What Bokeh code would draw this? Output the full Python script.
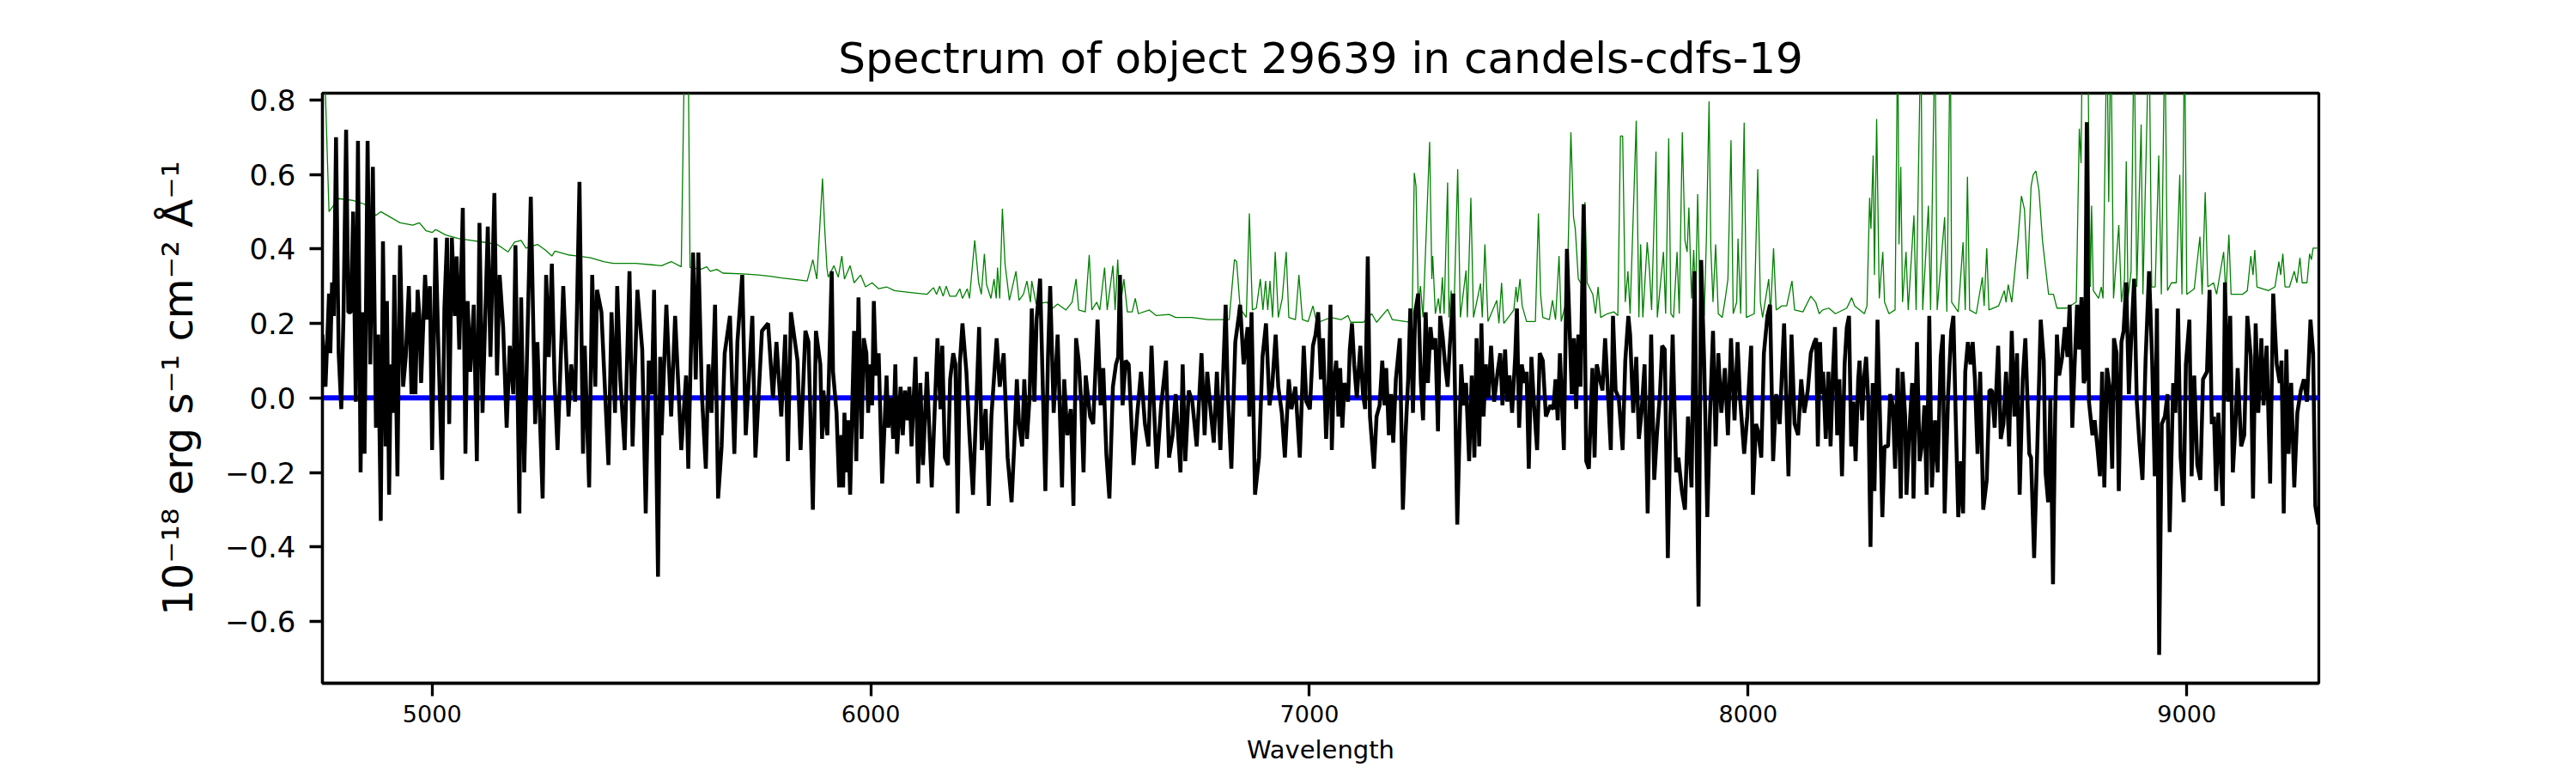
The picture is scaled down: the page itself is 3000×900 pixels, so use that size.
from bokeh.plotting import figure
from bokeh.models import Range1d, FixedTicker, CustomJSTickFormatter, ColumnDataSource
from bokeh.embed import file_html
from bokeh.resources import INLINE

TITLE = "Spectrum of object 29639 in candels-cdfs-19"
X_LABEL = "Wavelength"
Y_LABEL = "10\u207b\u00b9\u2078 erg s\u207b\u00b9 cm\u207b\u00b2 \u00c5\u207b\u00b9"
X_TICKS = [5000, 6000, 7000, 8000, 9000]
Y_TICKS = [-0.6, -0.4, -0.2, 0.0, 0.2, 0.4, 0.6, 0.8]

# observed flux (black), pairs of (wavelength, flux)
flux_4750_5880 = [(4750,0.17),(4757,0.03),(4765,0.28),(4768,0.12),(4772,0.31),(4776,0.22),(4781,0.70),(4787,0.12),(4793,-0.03),(4798,0.22),(4804,0.72),(4809,0.23),(4815,0.23),(4820,0.50),(4826,-0.01),(4831,0.69),(4837,-0.20),(4841,0.23),(4846,-0.15),(4853,0.69),(4859,0.09),(4865,0.62),(4872,-0.08),(4877,0.17),(4883,-0.33),(4888,0.42),(4894,-0.13),(4897,0.26),(4902,-0.26),(4906,0.09),(4910,-0.04),(4914,0.33),(4921,-0.21),(4927,0.41),(4934,0.03),(4940,0.11),(4947,0.30),(4953,0.01),(4958,0.23),(4962,0.01),(4967,0.29),(4971,0.22),(4975,0.04),(4984,0.33),(4989,0.21),(4995,0.30),(5000,-0.14),(5008,0.43),(5014,0.15),(5023,-0.22),(5028,0.24),(5034,0.43),(5039,-0.07),(5045,0.43),(5052,0.22),(5056,0.38),(5062,0.13),(5070,0.51),(5076,-0.15),(5081,0.26),(5087,0.07),(5095,0.25),(5102,-0.17),(5108,0.47),(5115,-0.04),(5127,0.46),(5133,0.11),(5142,0.55),(5148,0.06),(5154,0.33),(5162,0.19),(5170,-0.08),(5177,0.14),(5185,0.01),(5190,0.41),(5199,-0.31),(5203,0.27),(5210,-0.20),(5225,0.54),(5235,-0.07),(5240,0.15),(5252,-0.27),(5260,0.33),(5266,0.11),(5273,0.36),(5279,0.05),(5286,-0.14),(5299,0.30),(5311,-0.05),(5317,0.09),(5326,-0.01),(5336,0.58),(5344,-0.15),(5348,0.14),(5358,-0.24),(5365,0.33),(5372,0.03),(5376,0.29),(5386,0.23),(5402,-0.18),(5409,0.23),(5417,-0.04),(5422,0.30),(5429,0.05),(5439,-0.14),(5450,0.34),(5457,-0.13),(5468,0.29),(5479,0.13),(5487,-0.31),(5494,0.10),(5501,0.01),(5506,0.29),(5515,-0.48),(5520,0.11),(5523,-0.10),(5534,0.25),(5545,-0.05),(5554,0.22),(5568,-0.14),(5579,0.06),(5584,-0.19),(5595,0.39),(5601,0.05),(5607,0.39),(5615,0.01),(5624,-0.19),(5630,0.09),(5637,-0.04),(5645,0.25),(5652,-0.27),(5660,-0.13),(5667,0.12),(5679,0.22),(5689,-0.15),(5696,0.15),(5707,0.33),(5715,-0.10),(5730,0.22),(5737,-0.16),(5752,0.18),(5766,0.20),(5777,0.00),(5785,0.15),(5796,-0.05),(5805,0.17),(5811,-0.17),(5818,0.23),(5833,0.10),(5840,-0.14),(5851,0.18),(5858,0.15),(5868,-0.30),(5875,0.18)]

flux_5885_7015 = [(5885,0.09),(5889,-0.11),(5892,0.02),(5898,-0.07),(5901,-0.10),(5911,0.34),(5914,0.07),(5922,-0.04),(5928,-0.24),(5933,-0.10),(5937,-0.24),(5940,-0.04),(5944,-0.20),(5948,-0.06),(5953,-0.26),(5962,0.18),(5967,-0.17),(5972,0.27),(5979,-0.11),(5984,0.16),(5990,0.12),(5994,-0.04),(5999,0.09),(6003,-0.02),(6007,0.26),(6012,0.06),(6018,0.12),(6026,-0.23),(6036,0.06),(6040,-0.08),(6047,0.00),(6051,-0.11),(6056,0.09),(6060,-0.15),(6068,0.03),(6073,-0.10),(6078,0.02),(6084,-0.06),(6088,0.03),(6093,-0.13),(6102,0.11),(6108,-0.23),(6113,0.04),(6119,-0.18),(6128,0.07),(6139,-0.24),(6152,0.16),(6159,-0.03),(6163,0.14),(6169,-0.16),(6176,-0.18),(6181,0.05),(6188,0.12),(6193,0.09),(6198,-0.31),(6203,0.09),(6209,0.20),(6218,0.07),(6225,-0.10),(6233,-0.26),(6239,-0.07),(6247,0.19),(6253,-0.14),(6262,-0.03),(6269,-0.29),(6275,-0.05),(6287,0.16),(6294,0.03),(6303,0.12),(6312,-0.16),(6321,-0.28),(6327,-0.13),(6333,0.05),(6338,-0.07),(6345,-0.13),(6350,0.05),(6356,-0.11),(6362,0.00),(6367,0.24),(6373,-0.01),(6378,0.21),(6386,0.32),(6393,-0.01),(6398,-0.25),(6404,0.11),(6409,0.30),(6417,-0.04),(6426,0.17),(6436,-0.24),(6441,0.05),(6448,-0.10),(6456,-0.03),(6462,-0.29),(6468,0.16),(6474,0.10),(6480,-0.02),(6485,-0.20),(6490,0.06),(6500,-0.05),(6507,-0.07),(6517,0.21),(6524,-0.02),(6530,0.08),(6537,-0.15),(6544,-0.27),(6552,0.03),(6559,0.09),(6564,0.11),(6568,0.33),(6574,-0.02),(6581,0.10),(6588,0.09),(6594,-0.06),(6599,-0.18),(6607,-0.05),(6616,0.07),(6625,-0.07),(6633,-0.13),(6640,0.14),(6645,-0.01),(6652,-0.19),(6662,-0.02),(6673,0.10),(6680,-0.16),(6688,-0.10),(6695,0.01),(6706,-0.20),(6711,0.09),(6717,-0.17),(6725,0.02),(6733,-0.01),(6743,-0.13),(6754,0.12),(6761,-0.10),(6767,0.07),(6776,-0.05),(6782,-0.12),(6789,0.07),(6797,-0.14),(6809,0.25),(6814,0.01),(6822,-0.19),(6831,0.15),(6839,0.22),(6842,0.25),(6850,0.09),(6859,0.19),(6863,-0.05),(6868,0.23),(6876,-0.26),(6885,-0.16),(6893,0.11),(6901,0.20),(6909,-0.02),(6915,0.03),(6923,0.17),(6929,0.03),(6937,-0.04),(6944,-0.16),(6953,0.05),(6959,-0.03),(6968,0.03),(6978,-0.16),(6987,0.14),(6993,-0.01),(7001,-0.03),(7008,0.14),(7014,0.17)]

flux_7020_8150 = [(7020,0.23),(7026,0.05),(7031,0.16),(7038,-0.11),(7044,0.05),(7048,0.25),(7051,-0.14),(7055,0.03),(7061,0.10),(7066,-0.05),(7070,0.08),(7075,-0.08),(7080,0.04),(7088,-0.01),(7092,0.13),(7097,0.20),(7102,0.09),(7108,0.00),(7116,0.14),(7122,0.01),(7127,-0.03),(7133,0.38),(7138,-0.05),(7147,-0.19),(7153,-0.05),(7160,-0.02),(7166,0.10),(7171,-0.02),(7175,0.08),(7181,-0.10),(7186,0.01),(7191,-0.12),(7197,0.05),(7206,0.16),(7213,-0.30),(7219,-0.10),(7225,0.05),(7230,0.24),(7236,-0.04),(7241,0.23),(7248,0.28),(7254,0.04),(7259,-0.06),(7265,0.23),(7270,0.04),(7276,0.19),(7281,0.13),(7287,0.16),(7293,-0.09),(7298,0.22),(7304,0.16),(7309,0.09),(7315,0.03),(7320,0.14),(7328,0.28),(7337,-0.34),(7346,0.09),(7351,-0.02),(7357,0.04),(7364,-0.17),(7370,0.06),(7376,-0.16),(7381,0.16),(7387,-0.13),(7392,0.20),(7397,-0.05),(7402,0.09),(7408,0.00),(7414,0.14),(7421,-0.01),(7429,0.07),(7435,0.12),(7440,-0.02),(7446,0.13),(7451,-0.01),(7456,0.06),(7462,-0.04),(7469,0.11),(7473,0.24),(7478,-0.08),(7484,0.09),(7491,0.04),(7495,0.07),(7500,-0.19),(7506,0.11),(7512,-0.02),(7519,-0.14),(7525,0.12),(7532,0.10),(7539,-0.05),(7549,-0.02),(7556,-0.03),(7561,0.05),(7566,-0.06),(7571,0.12),(7580,-0.14),(7587,0.40),(7593,0.19),(7598,0.01),(7603,0.16),(7608,-0.03),(7613,0.17),(7618,0.03),(7625,0.52),(7631,-0.17),(7637,-0.19),(7645,0.08),(7650,-0.16),(7655,0.09),(7662,0.05),(7668,0.02),(7674,0.16),(7679,0.05),(7687,-0.14),(7692,0.22),(7698,0.02),(7705,0.00),(7714,-0.14),(7720,0.10),(7727,0.22),(7731,0.17),(7738,-0.04),(7745,0.11),(7751,-0.11),(7757,-0.04),(7764,0.09),(7771,-0.31),(7779,0.17),(7786,-0.22),(7792,-0.10),(7799,0.01),(7804,0.14),(7810,0.13),(7817,-0.43),(7823,-0.05),(7828,0.17),(7836,-0.20),(7841,-0.16),(7849,-0.25),(7856,-0.30),(7863,-0.05),(7871,-0.24),(7878,0.34),(7887,-0.56),(7893,0.37),(7900,0.09),(7907,-0.32),(7913,-0.05),(7920,0.18),(7926,-0.13),(7932,0.12),(7939,-0.04),(7947,0.08),(7954,-0.10),(7961,0.16),(7969,-0.06),(7976,0.15),(7981,0.01),(7991,-0.15),(7998,-0.05),(8007,0.14),(8011,-0.26),(8018,-0.07),(8023,-0.09),(8030,-0.16),(8036,0.12),(8044,0.22),(8050,0.25),(8057,-0.17),(8064,0.01),(8072,-0.07),(8082,0.20),(8092,-0.21),(8099,0.17),(8106,-0.07),(8114,-0.10),(8121,0.05),(8128,-0.04),(8136,0.02),(8143,0.12),(8151,0.15)]

flux_8155_9300 = [(8155,0.16),(8159,-0.13),(8164,0.15),(8168,0.01),(8171,0.07),(8177,-0.11),(8183,0.07),(8188,-0.13),(8193,0.06),(8198,0.19),(8203,-0.10),(8208,0.05),(8214,-0.21),(8220,0.09),(8225,0.19),(8230,0.22),(8235,-0.13),(8240,-0.01),(8245,-0.17),(8251,0.05),(8254,0.10),(8260,-0.06),(8264,0.05),(8269,0.11),(8274,-0.01),(8279,-0.40),(8284,0.04),(8288,-0.25),(8295,0.21),(8301,-0.07),(8306,-0.32),(8311,-0.13),(8319,-0.13),(8324,0.01),(8330,-0.02),(8335,-0.19),(8341,0.08),(8348,-0.27),(8352,0.07),(8358,-0.05),(8361,-0.26),(8367,-0.10),(8374,0.04),(8377,-0.27),(8385,0.15),(8391,-0.17),(8397,-0.12),(8402,-0.02),(8407,-0.26),(8413,0.22),(8419,-0.24),(8426,-0.06),(8432,-0.20),(8439,0.11),(8444,0.17),(8448,-0.31),(8456,0.01),(8463,0.18),(8468,0.22),(8473,-0.04),(8479,-0.32),(8485,-0.17),(8490,-0.31),(8495,0.07),(8501,0.15),(8507,0.09),(8512,0.15),(8517,0.05),(8523,-0.15),(8529,0.07),(8536,-0.30),(8544,-0.22),(8550,0.02),(8556,0.02),(8562,-0.08),(8570,0.14),(8576,-0.11),(8582,-0.07),(8588,0.07),(8595,-0.13),(8601,0.18),(8607,-0.05),(8613,0.12),(8619,-0.26),(8626,0.05),(8632,0.16),(8641,-0.15),(8645,-0.16),(8652,-0.43),(8660,-0.10),(8667,0.21),(8674,0.10),(8678,-0.20),(8684,-0.28),(8689,0.00),(8695,-0.50),(8700,-0.04),(8704,0.17),(8709,0.06),(8716,0.11),(8722,0.19),(8728,0.11),(8733,0.25),(8739,-0.08),(8744,0.08),(8750,0.25),(8755,0.13),(8760,0.27),(8765,0.04),(8768,0.05),(8772,0.74),(8777,-0.01),(8785,-0.10),(8790,-0.06),(8796,-0.13),(8802,-0.21),(8807,0.07),(8812,-0.24),(8818,0.08),(8824,0.03),(8830,-0.19),(8834,0.16),(8840,0.12),(8845,-0.25),(8851,0.15),(8856,0.18),(8862,0.31),(8868,0.01),(8873,0.15),(8880,0.32),(8886,-0.01),(8892,-0.12),(8899,-0.22),(8906,0.10),(8914,0.34),(8921,0.10),(8927,-0.21),(8932,0.24),(8937,-0.69),(8943,-0.07),(8950,-0.05),(8956,0.01),(8961,-0.36),(8969,0.04),(8974,-0.04),(8980,0.24),(8986,-0.16),(8993,-0.28),(8998,0.09),(9006,0.21),(9011,-0.21),(9017,0.06),(9024,-0.18),(9031,-0.22),(9037,0.05),(9046,0.07),(9052,0.29),(9057,-0.07),(9062,-0.05),(9067,-0.25),(9072,-0.04),(9077,-0.16),(9082,-0.29),(9087,0.31),(9094,-0.01),(9099,0.22),(9105,-0.20),(9111,-0.07),(9116,0.08),(9124,-0.13),(9131,-0.10),(9138,0.22),(9146,0.11),(9151,-0.27),(9157,0.20),(9163,-0.04),(9170,0.16),(9175,-0.02),(9182,0.14),(9190,-0.23),(9197,0.28),(9205,0.09),(9212,0.04),(9216,0.10),(9221,-0.31),(9227,0.13),(9232,-0.15),(9238,0.04),(9245,-0.24),(9252,-0.04),(9260,0.02),(9267,0.05),(9274,-0.01),(9282,0.21),(9288,0.12),(9293,-0.29),(9300,-0.34)]

# noise / sky spectrum (green), pairs of (wavelength, value)
sky_4750_5900 = [(4750,1.0),(4756,0.85),(4765,0.50),(4787,0.535),(4820,0.53),(4846,0.52),(4872,0.49),(4883,0.50),(4905,0.485),(4927,0.47),(4956,0.464),(4971,0.47),(4986,0.449),(5000,0.444),(5008,0.452),(5030,0.438),(5059,0.428),(5089,0.423),(5118,0.418),(5148,0.412),(5173,0.392),(5188,0.418),(5203,0.423),(5214,0.402),(5240,0.412),(5258,0.397),(5273,0.381),(5280,0.394),(5310,0.384),(5332,0.381),(5361,0.376),(5391,0.366),(5413,0.361),(5464,0.361),(5523,0.355),(5545,0.366),(5568,0.352),(5575,0.9),(5578,1.6),(5584,0.9),(5588,0.35),(5612,0.345),(5626,0.352),(5634,0.34),(5649,0.345),(5663,0.335),(5707,0.333),(5744,0.33),(5774,0.326),(5796,0.322),(5818,0.319),(5855,0.314),(5868,0.371),(5877,0.319),(5890,0.589),(5895,0.454),(5900,0.35)]

sky_5903_7016 = [(5903,0.324),(5916,0.355),(5926,0.324),(5934,0.381),(5940,0.319),(5953,0.355),(5962,0.309),(5977,0.33),(5988,0.298),(6003,0.309),(6018,0.293),(6036,0.298),(6054,0.288),(6091,0.283),(6128,0.278),(6143,0.296),(6150,0.278),(6157,0.30),(6165,0.273),(6172,0.30),(6180,0.273),(6194,0.273),(6203,0.293),(6209,0.267),(6220,0.293),(6225,0.267),(6237,0.423),(6246,0.309),(6252,0.278),(6259,0.387),(6264,0.304),(6274,0.267),(6281,0.319),(6286,0.267),(6289,0.35),(6294,0.267),(6300,0.508),(6306,0.361),(6316,0.262),(6331,0.34),(6338,0.262),(6348,0.278),(6356,0.314),(6364,0.257),(6367,0.314),(6377,0.252),(6401,0.257),(6415,0.241),(6426,0.252),(6445,0.236),(6459,0.257),(6468,0.319),(6474,0.236),(6489,0.231),(6498,0.384),(6504,0.236),(6515,0.257),(6522,0.236),(6533,0.35),(6539,0.236),(6552,0.355),(6557,0.236),(6563,0.371),(6568,0.236),(6577,0.319),(6585,0.231),(6596,0.231),(6603,0.267),(6610,0.226),(6635,0.236),(6651,0.221),(6680,0.224),(6695,0.216),(6732,0.216),(6769,0.21),(6817,0.21),(6829,0.371),(6834,0.366),(6842,0.241),(6856,0.216),(6863,0.495),(6870,0.236),(6879,0.241),(6888,0.319),(6894,0.236),(6900,0.314),(6905,0.236),(6910,0.314),(6916,0.216),(6922,0.392),(6929,0.216),(6938,0.267),(6947,0.392),(6953,0.216),(6968,0.21),(6971,0.252),(6976,0.33),(6984,0.21),(6997,0.205),(7008,0.247),(7016,0.205)]

sky_7020_8162 = [(7020,0.203),(7049,0.216),(7072,0.21),(7088,0.221),(7094,0.203),(7123,0.203),(7142,0.226),(7153,0.203),(7178,0.238),(7189,0.21),(7219,0.205),(7234,0.203),(7239,0.604),(7243,0.568),(7248,0.257),(7253,0.30),(7259,0.216),(7274,0.687),(7279,0.319),(7281,0.381),(7287,0.226),(7294,0.267),(7298,0.226),(7303,0.324),(7307,0.226),(7315,0.578),(7318,0.216),(7323,0.288),(7329,0.21),(7338,0.614),(7344,0.216),(7357,0.342),(7360,0.216),(7368,0.537),(7374,0.216),(7390,0.307),(7394,0.216),(7400,0.412),(7407,0.205),(7427,0.262),(7432,0.20),(7438,0.309),(7443,0.20),(7466,0.236),(7471,0.298),(7474,0.257),(7480,0.319),(7485,0.247),(7495,0.205),(7515,0.205),(7522,0.495),(7527,0.278),(7532,0.216),(7547,0.21),(7554,0.262),(7561,0.21),(7569,0.381),(7574,0.205),(7587,0.267),(7596,0.713),(7602,0.485),(7606,0.454),(7613,0.319),(7624,0.298),(7628,0.526),(7633,0.309),(7646,0.278),(7652,0.226),(7658,0.298),(7664,0.216),(7679,0.226),(7694,0.231),(7703,0.221),(7709,0.703),(7714,0.703),(7720,0.257),(7726,0.34),(7731,0.226),(7745,0.744),(7751,0.216),(7755,0.412),(7760,0.216),(7770,0.418),(7775,0.345),(7780,0.236),(7790,0.661),(7793,0.216),(7807,0.392),(7812,0.226),(7819,0.697),(7824,0.226),(7830,0.216),(7838,0.392),(7843,0.226),(7850,0.713),(7856,0.423),(7861,0.392),(7865,0.511),(7871,0.267),(7876,0.397),(7880,0.257),(7885,0.547),(7891,0.226),(7900,0.221),(7905,0.433),(7911,0.796),(7915,0.402),(7920,0.257),(7926,0.412),(7932,0.226),(7941,0.216),(7948,0.267),(7954,0.319),(7961,0.692),(7966,0.226),(7974,0.257),(7977,0.428),(7983,0.226),(7991,0.739),(7996,0.216),(8014,0.226),(8022,0.614),(8028,0.257),(8033,0.216),(8047,0.319),(8051,0.226),(8058,0.402),(8064,0.236),(8077,0.247),(8088,0.247),(8100,0.314),(8106,0.236),(8125,0.231),(8136,0.257),(8143,0.273),(8154,0.257),(8162,0.226)]

sky_8170_9300 = [(8170,0.236),(8184,0.241),(8199,0.226),(8225,0.241),(8236,0.269),(8243,0.247),(8265,0.226),(8271,0.247),(8277,0.537),(8280,0.454),(8285,0.651),(8288,0.33),(8293,0.749),(8299,0.267),(8307,0.392),(8311,0.257),(8321,0.226),(8335,0.236),(8341,1.0),(8344,0.412),(8348,0.62),(8352,0.257),(8360,0.392),(8365,0.236),(8378,0.49),(8383,0.236),(8394,1.0),(8398,0.236),(8411,0.516),(8416,0.236),(8426,1.0),(8431,0.236),(8448,0.485),(8453,0.231),(8461,1.0),(8464,0.257),(8479,0.231),(8490,0.418),(8495,0.236),(8500,0.594),(8505,0.236),(8520,0.226),(8534,0.324),(8538,0.247),(8544,0.402),(8549,0.236),(8571,0.247),(8584,0.288),(8588,0.257),(8593,0.304),(8601,0.257),(8615,0.423),(8623,0.542),(8630,0.506),(8637,0.319),(8645,0.568),(8650,0.599),(8656,0.609),(8663,0.558),(8671,0.423),(8678,0.35),(8685,0.278),(8696,0.278),(8704,0.241),(8726,0.241),(8748,0.257),(8755,0.723),(8759,0.63),(8762,1.0),(8774,1.0),(8780,0.298),(8783,0.516),(8787,0.288),(8799,0.267),(8805,0.298),(8809,0.267),(8818,1.0),(8822,0.526),(8827,1.0),(8833,0.267),(8845,0.464),(8851,0.257),(8858,0.319),(8862,0.635),(8866,0.267),(8873,0.34),(8880,1.0),(8886,0.298),(8896,0.734),(8900,0.278),(8914,1.0),(8920,0.298),(8928,0.298),(8936,0.651),(8942,0.278),(8950,1.0),(8956,0.288),(8965,0.309),(8976,0.309),(8984,0.599),(8989,0.278),(8995,1.0),(9000,0.278),(9017,0.293),(9030,0.433),(9035,0.278),(9042,0.552),(9048,0.298),(9061,0.309),(9068,0.278),(9084,0.392),(9089,0.278),(9096,0.438),(9101,0.278),(9127,0.278),(9138,0.288),(9146,0.381),(9151,0.33),(9155,0.397),(9160,0.298),(9186,0.288),(9201,0.298),(9210,0.366),(9214,0.33),(9219,0.387),(9224,0.298),(9234,0.298),(9245,0.34),(9251,0.309),(9258,0.376),(9263,0.309),(9274,0.309),(9280,0.387),(9284,0.371),(9288,0.402),(9300,0.402)]

# zero level (blue)
zero_wave = [4750, 9301]
zero_flux = [0.0, 0.0]

flux_pairs = flux_4750_5880 + flux_5885_7015 + flux_7020_8150 + flux_8155_9300
sky_pairs = sky_4750_5900 + sky_5903_7016 + sky_7020_8162 + sky_8170_9300

flux_src = ColumnDataSource(dict(x=[a for a, b in flux_pairs], y=[b for a, b in flux_pairs]))
sky_src = ColumnDataSource(dict(x=[a for a, b in sky_pairs], y=[b for a, b in sky_pairs]))
zero_src = ColumnDataSource(dict(x=zero_wave, y=zero_flux))

FONT = "DejaVu Sans"

p = figure(width=2992, height=892,
           x_range=Range1d(4750, 9301), y_range=Range1d(-0.766, 0.818),
           output_backend="svg", toolbar_location=None,
           min_border_left=375, min_border_right=292,
           min_border_top=108, min_border_bottom=91,
           background_fill_color="white", border_fill_color="white")

p.title.text = TITLE
p.title.align = "center"
p.title.text_font = FONT
p.title.text_font_size = "50px"
p.title.text_font_style = "normal"
p.title.text_color = "black"
p.title.standoff = 24

p.line("x", "y", source=zero_src, line_color="#0000ff", line_width=6)
p.line("x", "y", source=sky_src, line_color="#008000", line_width=1.3)
p.line("x", "y", source=flux_src, line_color="black", line_width=4.5)

p.xgrid.visible = False
p.ygrid.visible = False
p.outline_line_color = "black"
p.outline_line_width = 3.3
p.outline_line_alpha = 1.0

for ax in (p.xaxis[0], p.yaxis[0]):
    ax.axis_line_color = "black"
    ax.axis_line_width = 3.3
    ax.major_tick_line_color = "black"
    ax.major_tick_line_width = 3.3
    ax.major_tick_out = 15
    ax.major_tick_in = 0
    ax.minor_tick_out = 0
    ax.minor_tick_in = 0
    ax.major_label_text_font = FONT
    ax.major_label_text_color = "black"
    ax.axis_label_text_font = FONT
    ax.axis_label_text_font_style = "normal"
    ax.axis_label_text_color = "black"

xa = p.xaxis[0]
xa.ticker = FixedTicker(ticks=X_TICKS)
xa.major_label_text_font_size = "27px"
xa.major_label_standoff = 10
xa.axis_label = X_LABEL
xa.axis_label_text_font_size = "29px"
xa.axis_label_standoff = 12

ya = p.yaxis[0]
ya.ticker = FixedTicker(ticks=Y_TICKS)
ya.formatter = CustomJSTickFormatter(code="return tick.toFixed(1).replace('-', '\u2212');")
ya.major_label_text_font_size = "34px"
ya.major_label_standoff = 16
ya.axis_label = Y_LABEL
ya.axis_label_text_font_size = "48px"
ya.axis_label_standoff = 24

open("out.html", "w").write(file_html(p, INLINE))
